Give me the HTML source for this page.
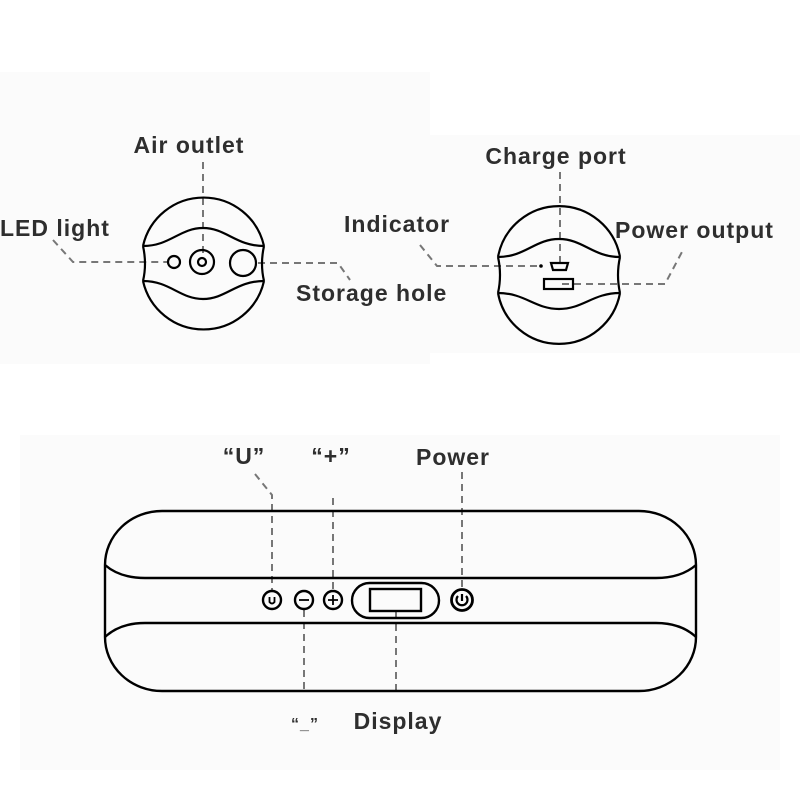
<!DOCTYPE html>
<html><head><meta charset="utf-8"><style>
html,body{margin:0;padding:0;background:#fff;}
svg{display:block;}
text{font-family:"Liberation Sans",sans-serif;font-weight:bold;fill:#2e2e2e;font-size:23px;letter-spacing:1px;}
</style></head><body>
<svg width="800" height="800" viewBox="0 0 800 800" xmlns="http://www.w3.org/2000/svg">
<rect x="0" y="0" width="800" height="800" fill="#fff"/>
<rect x="0" y="72" width="430" height="292" fill="#fbfbfb"/>
<rect x="430" y="135" width="370" height="218" fill="#fbfbfb"/>
<rect x="20" y="435" width="760" height="335" fill="#fbfbfb"/>

<!-- labels -->
<text x="189" y="153" text-anchor="middle">Air outlet</text>
<text x="556" y="164" text-anchor="middle">Charge port</text>
<text x="0" y="236">LED light</text>
<text x="344" y="232">Indicator</text>
<text x="615" y="238">Power output</text>
<text x="296" y="301">Storage hole</text>
<text x="244" y="464" text-anchor="middle">“U”</text>
<text x="331" y="464" text-anchor="middle">“+”</text>
<text x="453" y="465" text-anchor="middle">Power</text>
<text x="305" y="729" text-anchor="middle" style="font-size:16px">“_”</text>
<text x="398" y="729" text-anchor="middle">Display</text>

<!-- dashed connectors -->
<g fill="none" stroke="#777" stroke-width="2" stroke-dasharray="7,5">
<path d="M53 240 L73 262 L168 262"/>
<path d="M203 162 L203 258"/>
<path d="M258 263 L338 263 L350 280"/>
<path d="M560 172 L560 262"/>
<path d="M420 245 L437 266 L537 266"/>
<path d="M562 284 L665 284 L683 250"/>
<path d="M255 474 L272 495 L272 591"/>
<path d="M333 498 L333 591"/>
<path d="M462 472 L462 589"/>
<path d="M304 610 L304 692"/>
<path d="M396 612 L396 695"/>
</g>

<!-- left device -->
<g fill="none" stroke="#000" stroke-width="2.2">
<path d="M143 246 A62 62 0 0 1 264 246"/>
<path d="M143 281 A62 62 0 0 0 264 281"/>
<path d="M143 246 Q147 264 143 281"/>
<path d="M264 246 Q260 264 264 281"/>
<path d="M143 246 C170 246 180 228 203 228 C226 228 236 246 264 246"/>
<path d="M143 281 C170 281 180 299 203 299 C226 299 236 281 264 281"/>
<circle cx="174" cy="262" r="6"/>
<circle cx="202" cy="262" r="12"/>
<circle cx="202" cy="262" r="4"/>
<circle cx="243" cy="263" r="13"/>
</g>

<!-- right device -->
<g fill="none" stroke="#000" stroke-width="2.2">
<path d="M498 257 A62 62 0 0 1 620 257"/>
<path d="M498 293 A62 62 0 0 0 620 293"/>
<path d="M498 257 Q502 275 498 293"/>
<path d="M620 257 Q616 275 620 293"/>
<path d="M498 257 C525 257 535 239 559 239 C583 239 593 257 620 257"/>
<path d="M498 293 C525 293 535 309 559 309 C583 309 593 293 620 293"/>
<path d="M551 263 L568 263 L566 270 L553 270 Z"/>
<rect x="544" y="279" width="29" height="10"/>
</g>
<circle cx="541" cy="266" r="1.8" fill="#000"/>

<!-- bottom device -->
<g fill="none" stroke="#000" stroke-width="2.4">
<path d="M162 511 L639 511 A57 54 0 0 1 696 565 L696 637 A57 54 0 0 1 639 691 L162 691 A57 54 0 0 1 105 637 L105 565 A57 54 0 0 1 162 511 Z"/>
<path d="M105 565 Q120 578 145 578 L656 578 Q681 578 696 565"/>
<path d="M105 637 Q120 623 145 623 L656 623 Q681 623 696 637"/>
<circle cx="272" cy="600" r="9"/>
<circle cx="304" cy="600" r="9"/>
<circle cx="333" cy="600" r="9"/>
<rect x="352" y="583" width="87" height="35" rx="17.5"/>
<rect x="370" y="589" width="51" height="22"/>
<circle cx="462" cy="600" r="10.5" stroke-width="2.8"/>
</g>
<g fill="none" stroke="#000" stroke-width="1.8">
<path d="M269.5 597 L269.5 602 Q272 605 274.5 602 L274.5 597"/>
<path d="M299 600 L309 600"/>
<path d="M328 600 L338 600 M333 595 L333 605"/>
<path d="M458 596 A5.5 5.5 0 1 0 466 596 M462 594 L462 601" stroke-width="2.2"/>
</g>
</svg>
</body></html>
